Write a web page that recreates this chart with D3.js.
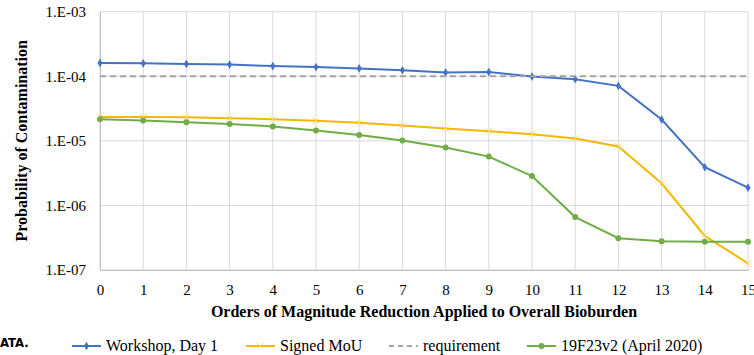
<!DOCTYPE html>
<html lang="en">
<head>
    <meta charset="UTF-8">
    <title>Probability of Contamination</title>
    <script src="https://cdn.jsdelivr.net/npm/d3@7"></script>
    <style>
        body { margin: 0; background: #fff; }
        svg { display: block; }
        svg text { font-family: "Liberation Serif", "Times New Roman", Times, serif !important; }
        svg text.narrow { font-family: "DejaVu Sans Condensed", "Liberation Sans", sans-serif !important; }
    </style>
</head>
<body>
<div id="chart-space"></div>
<script>
    // values
    var orders = [0, 1, 2, 3, 4, 5, 6, 7, 8, 9, 10, 11, 12, 13, 14, 15];
    var workshop = [1.61e-4, 1.59e-4, 1.55e-4, 1.52e-4, 1.44e-4, 1.39e-4, 1.32e-4, 1.24e-4,
                    1.14e-4, 1.16e-4, 9.9e-5, 9.0e-5, 7.1e-5, 2.14e-5, 3.9e-6, 1.88e-6];
    var signedMoU = [2.35e-5, 2.34e-5, 2.32e-5, 2.24e-5, 2.16e-5, 2.04e-5, 1.90e-5, 1.73e-5,
                     1.55e-5, 1.41e-5, 1.27e-5, 1.09e-5, 8.2e-6, 2.2e-6, 3.37e-7, 1.27e-7];
    var requirement = [1e-4, 1e-4, 1e-4, 1e-4, 1e-4, 1e-4, 1e-4, 1e-4,
                       1e-4, 1e-4, 1e-4, 1e-4, 1e-4, 1e-4, 1e-4, 1e-4];
    var v19F23 = [2.16e-5, 2.07e-5, 1.94e-5, 1.83e-5, 1.67e-5, 1.45e-5, 1.23e-5, 1.01e-5,
                  7.9e-6, 5.7e-6, 2.85e-6, 6.6e-7, 3.1e-7, 2.79e-7, 2.75e-7, 2.75e-7];
    var yTicks = [1e-7, 1e-6, 1e-5, 1e-4, 1e-3];
    var seriesNames = ["Workshop, Day 1", "Signed MoU", "requirement", "19F23v2 (April 2020)"];

    var width = 754, height = 355;
    var margin = {top: 11.7, right: 6, bottom: 85, left: 100};

    var series = [
        {name: seriesNames[0], values: workshop, color: "#4472C4", marker: "diamond"},
        {name: seriesNames[1], values: signedMoU, color: "#F5B800", marker: "x"},
        {name: seriesNames[2], values: requirement, color: "#A5A5A5", marker: "none", dash: "6,4"},
        {name: seriesNames[3], values: v19F23, color: "#70AD47", marker: "circle"}
    ];

    var svg = d3.select("#chart-space")
                .append("svg")
                .attr("width", width)
                .attr("height", height);

    var xScale = d3.scaleLinear()
                   .domain([0, 15])
                   .range([margin.left, width - margin.right]);

    var yScale = d3.scaleLog()
                   .domain([1e-7, 1e-3])
                   .range([height - margin.bottom, margin.top]);

    // gridlines
    svg.append("g")
       .selectAll("line")
       .data(orders)
       .join("line")
       .attr("x1", d => xScale(d)).attr("x2", d => xScale(d))
       .attr("y1", yScale(1e-3)).attr("y2", yScale(1e-7))
       .attr("stroke", "#d9d9d9").attr("stroke-width", 1);

    svg.append("g")
       .selectAll("line")
       .data(yTicks)
       .join("line")
       .attr("x1", xScale(0)).attr("x2", xScale(15))
       .attr("y1", d => yScale(d)).attr("y2", d => yScale(d))
       .attr("stroke", "#d9d9d9").attr("stroke-width", 1);

    // axes
    var xAxis = d3.axisBottom(xScale).tickValues(orders).tickSize(0).tickPadding(14);
    var gx = svg.append("g")
                .attr("transform", "translate(0," + yScale(1e-7) + ")")
                .call(xAxis);
    gx.select(".domain").attr("stroke", "#bfbfbf");
    gx.selectAll("text").attr("font-size", 15).attr("fill", "#000");

    var yAxis = d3.axisLeft(yScale).tickValues(yTicks).tickSize(0).tickPadding(14)
                  .tickFormat(d => "1.E-" + String(Math.round(-Math.log10(d))).padStart(2, "0"));
    var gy = svg.append("g")
                .attr("transform", "translate(" + xScale(0) + ",0)")
                .call(yAxis);
    gy.select(".domain").attr("stroke", "#bfbfbf");
    gy.selectAll("text").attr("font-size", 15).attr("fill", "#000");

    // axis titles
    svg.append("text")
       .attr("x", (xScale(0) + xScale(15)) / 2).attr("y", 317)
       .attr("text-anchor", "middle")
       .attr("font-size", 16).attr("font-weight", "bold")
       .text("Orders of Magnitude Reduction Applied to Overall Bioburden");

    svg.append("text")
       .attr("transform", "translate(27," + yScale(Math.sqrt(1e-3 * 1e-7)) + ") rotate(-90)")
       .attr("text-anchor", "middle")
       .attr("font-size", 16).attr("font-weight", "bold")
       .text("Probability of Contamination");

    // lines
    var line = d3.line()
                 .x((d, i) => xScale(orders[i]))
                 .y(d => yScale(d));

    function drawMarkers(g, s, pts) {
        if (s.marker === "diamond") {
            g.selectAll("path.m").data(pts).join("path")
             .attr("class", "m")
             .attr("d", d3.symbol(d3.symbolDiamond, 22))
             .attr("transform", d => "translate(" + d[0] + "," + d[1] + ")")
             .attr("fill", s.color);
        } else if (s.marker === "circle") {
            g.selectAll("circle.m").data(pts).join("circle")
             .attr("class", "m")
             .attr("cx", d => d[0]).attr("cy", d => d[1]).attr("r", 3)
             .attr("fill", s.color);
        } else if (s.marker === "x") {
            g.selectAll("path.m").data(pts).join("path")
             .attr("class", "m")
             .attr("d", d3.symbol(d3.symbolX, 30))
             .attr("transform", d => "translate(" + d[0] + "," + d[1] + ")")
             .attr("fill", "none").attr("stroke", "#FFD966").attr("stroke-width", 1);
        }
    }

    series.forEach(function(s) {
        var g = svg.append("g");
        g.append("path")
         .datum(s.values)
         .attr("d", line)
         .attr("fill", "none")
         .attr("stroke", s.color)
         .attr("stroke-width", 2)
         .attr("stroke-dasharray", s.dash || null);
        var pts = s.values.map((v, i) => [xScale(orders[i]), yScale(v)]);
        drawMarkers(g, s, pts);
    });

    // stray cut-off text on the left
    svg.append("text")
       .attr("class", "narrow")
       .attr("x", 0).attr("y", 347)
       .attr("font-size", 13).attr("font-weight", "bold")
       .text("ATA.");

    // legend
    var legendX = [72, 246, 389, 527];
    var legendY = 346;
    series.forEach(function(s, i) {
        var g = svg.append("g").attr("transform", "translate(" + legendX[i] + "," + legendY + ")");
        g.append("line")
         .attr("x1", 0).attr("x2", 29).attr("y1", 0).attr("y2", 0)
         .attr("stroke", s.color).attr("stroke-width", 2)
         .attr("stroke-dasharray", s.dash ? "5,4" : null);
        drawMarkers(g, s, [[14.5, 0]]);
        g.append("text")
         .attr("x", 34).attr("y", 5)
         .attr("font-size", 16)
         .text(s.name);
    });
</script>
</body>
</html>
